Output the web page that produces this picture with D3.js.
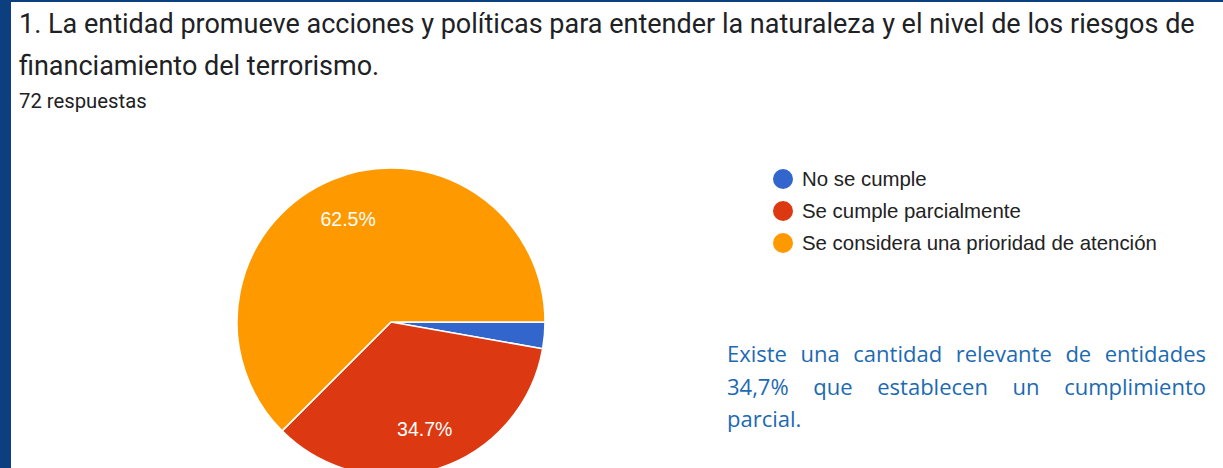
<!DOCTYPE html>
<html>
<head>
<meta charset="utf-8">
<script src="https://cdn.jsdelivr.net/npm/d3@7"></script>
<style>
  html, body { margin: 0; padding: 0; background: #fff; }
  svg { display: block; }
</style>
</head>
<body>
<svg id="chart" width="1223" height="468"></svg>
<script>
// Survey question and responses
const titleLines = [
  "1. La entidad promueve acciones y políticas para entender la naturaleza y el nivel de los riesgos de",
  "financiamiento del terrorismo."
];
const responseCount = "72 respuestas";

const categories = ["No se cumple", "Se cumple parcialmente", "Se considera una prioridad de atención"];
const counts = [2, 25, 45];
const percentLabels = ["2.8%", "34.7%", "62.5%"];
const colors = ["#3366cc", "#dc3912", "#ff9900"];

const noteLines = [
  "Existe una cantidad relevante de entidades",
  "34,7% que establecen un cumplimiento",
  "parcial."
];

const W = 1223, H = 468;
const svg = d3.select("#chart");

// Frame: dark blue band on the left and a thin one on top
svg.append("rect").attr("x", 0).attr("y", 0).attr("width", 11).attr("height", H).attr("fill", "#0b3f80");
svg.append("rect").attr("x", 0).attr("y", 0).attr("width", W).attr("height", 2).attr("fill", "#0b3f80");

// Title
const title = svg.append("g").attr("font-family", "Roboto, sans-serif").attr("fill", "#202124");
title.selectAll("text").data(titleLines).join("text")
  .attr("x", 19)
  .attr("y", (d, i) => 33 + i * 42)
  .attr("font-size", 27)
  .text(d => d);
svg.append("text")
  .attr("x", 19).attr("y", 108)
  .attr("font-family", "Roboto, sans-serif")
  .attr("font-size", 20.3)
  .attr("fill", "#202124")
  .text(responseCount);

// Pie
const cx = 391, cy = 322, radius = 154;
const pie = d3.pie().sort(null).startAngle(Math.PI / 2).endAngle(Math.PI / 2 + 2 * Math.PI);
const arcs = pie(counts);
const arc = d3.arc().innerRadius(0).outerRadius(radius);
const labelArc = d3.arc().innerRadius(112).outerRadius(112);

const g = svg.append("g").attr("transform", `translate(${cx},${cy})`);
g.selectAll("path").data(arcs).join("path")
  .attr("d", arc)
  .attr("fill", (d, i) => colors[i])
  .attr("stroke", "#fff")
  .attr("stroke-width", 1.5);

// Percent labels only on slices large enough to hold them
g.selectAll("text").data(arcs.filter(d => d.endAngle - d.startAngle > 0.5)).join("text")
  .attr("transform", d => `translate(${labelArc.centroid(d)})`)
  .attr("text-anchor", "middle")
  .attr("dy", "0.36em")
  .attr("font-family", "'Liberation Sans', Arial, sans-serif")
  .attr("font-size", 19.5)
  .attr("fill", "#fff")
  .text(d => percentLabels[d.index]);

// Legend
const legend = svg.append("g").attr("transform", "translate(783,179)");
const item = legend.selectAll("g").data(categories).join("g")
  .attr("transform", (d, i) => `translate(0,${i * 32})`);
item.append("circle").attr("r", 10).attr("fill", (d, i) => colors[i]);
item.append("text")
  .attr("x", 19).attr("dy", "0.36em")
  .attr("font-family", "'Liberation Sans', Arial, sans-serif")
  .attr("font-size", 20.4)
  .attr("fill", "#222")
  .text(d => d);

// Commentary, justified between two margins
const noteLeft = 727, noteRight = 1206;
const note = svg.append("g")
  .attr("font-family", "'Open Sans', sans-serif")
  .attr("font-size", 22)
  .attr("fill", "#1c6ab2");
noteLines.forEach((line, li) => {
  const y = 362 + li * 32.5;
  const words = line.split(" ");
  const t = note.append("text").attr("y", y);
  const spans = words.map(w => t.append("tspan").text(w));
  const widths = spans.map(s => s.node().getComputedTextLength());
  const total = d3.sum(widths);
  const last = li === noteLines.length - 1;
  const gap = (last || words.length < 2) ? 6 : (noteRight - noteLeft - total) / (words.length - 1);
  let x = noteLeft;
  spans.forEach((s, i) => { s.attr("x", x).attr("y", y); x += widths[i] + gap; });
});
</script>
</body>
</html>
